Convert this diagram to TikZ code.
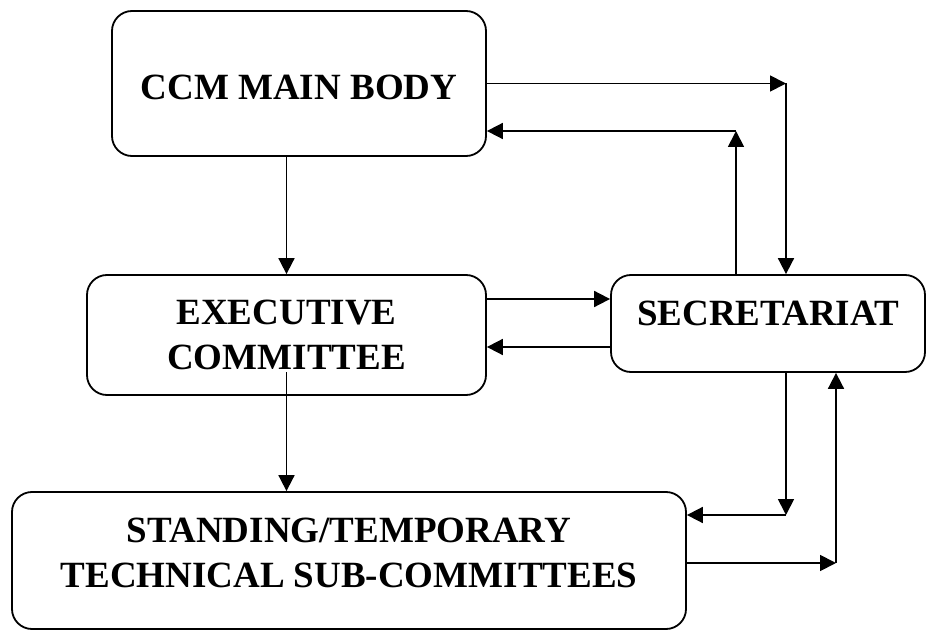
\documentclass[tikz,border=0pt]{standalone}
\usepackage{fontspec}
\setmainfont{Liberation Serif}
\usetikzlibrary{arrows.meta}
\tikzset{
roundboxv1/.style={rectangle, rounded corners=10pt, draw=black!100, fill=none, line width=0.9pt, inner sep=0pt, align=center, font=\fontsize{18.5}{22.5}\selectfont\bfseries},
arrowv1/.style={draw=black, line width=0.9pt, -{Triangle[length=8pt,width=8pt]}},
}

\begin{document}
\begin{tikzpicture}[x=0.5pt,y=-0.5pt]
        \useasboundingbox (0,0) rectangle (927,631);
        \node[roundboxv1, minimum width=187pt, minimum height=72.5pt, text height=16.5pt, text depth=0pt] at (299,83.5) (ccm) {CCM MAIN BODY};
        \node[roundboxv1, minimum width=199.5pt, minimum height=60pt] at (286.5,335) (exec) {EXECUTIVE\\COMMITTEE};
        \node[roundboxv1, minimum width=157pt, minimum height=48.5pt, text height=12.25pt, text depth=10.75pt] at (768,323.5) (sec) {SECRETARIAT};
        \node[roundboxv1, minimum width=337pt, minimum height=68.5pt] at (349,560.5) (std) {STANDING/TEMPORARY\\TECHNICAL SUB-COMMITTEES\rule[-8pt]{0pt}{0pt}};

        \coordinate (c1) at (786,83.5);
        \coordinate (c2) at (736,131);
        \coordinate (c3) at (786,515);
        \coordinate (c4) at (836,563);
        \coordinate (e1) at ([yshift=18pt]exec.east);
        \coordinate (e2) at ([yshift=-6pt]exec.east);

        \draw[arrowv1] (ccm.east) -- (c1);
        \draw[arrowv1] (c1) -- (c1 |- sec.north);
        \draw[arrowv1] (c2 |- sec.north) -- (c2);
        \draw[arrowv1] (c2) -- (c2 -| ccm.east);
        \draw[arrowv1] (ccm.south -| exec.north) -- (exec.north);
        \draw[arrowv1] ([yshift=-18.5pt]exec.center) -- (exec.center |- std.north);
        \draw[arrowv1] (e1) -- (e1 -| sec.west);
        \draw[arrowv1] (e2 -| sec.west) -- (e2);
        \draw[arrowv1] (c3 |- sec.south) -- (c3);
        \draw[arrowv1] (c3) -- (c3 -| std.east);
        \draw[arrowv1] (c4 -| std.east) -- (c4);
        \draw[arrowv1] (c4) -- (c4 |- sec.south);
    \end{tikzpicture}
\end{document}
